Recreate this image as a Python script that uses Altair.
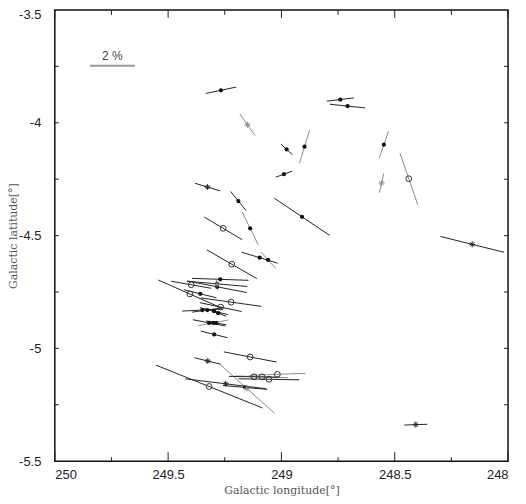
import numpy as np
import pandas as pd
import altair as alt

# ---- star positions and polarization vectors ----
lon = [249.267, 249.150, 249.326, 249.190, 249.257, 249.138, 248.740, 248.708, 248.977, 248.898,
       248.989, 248.548, 248.558, 248.438, 248.909, 248.158, 249.219, 249.096, 249.059, 249.270,
       249.284, 249.398, 249.284, 249.284, 249.404, 249.358, 249.222, 249.268, 249.349, 249.327,
       249.297, 249.279, 249.319, 249.301, 249.288, 249.297, 249.138, 249.325, 249.319, 249.152,
       249.246, 249.160, 249.018, 249.055, 249.086, 249.121, 248.407]
lat = [-3.856, -4.009, -4.285, -4.347, -4.468, -4.468, -3.897, -3.926, -4.118, -4.106,
       -4.228, -4.097, -4.267, -4.248, -4.417, -4.539, -4.627, -4.598, -4.608, -4.694,
       -4.714, -4.718, -4.727, -4.716, -4.759, -4.758, -4.795, -4.817, -4.830, -4.830,
       -4.835, -4.844, -4.887, -4.887, -4.887, -4.938, -5.038, -5.056, -5.169, -5.178,
       -5.157, -5.173, -5.115, -5.137, -5.126, -5.126, -5.338]
pol = [1.37, 1.17, 1.16, 1.09, 1.95, 1.64, 1.20, 1.57, 0.70, 1.52,
       0.76, 1.26, 0.88, 2.41, 2.95, 2.90, 2.55, 1.67, 1.00, 2.49,
       2.68, 1.80, 2.67, 0.54, 3.05, 1.47, 2.69, 1.89, 1.78, 1.35,
       1.28, 0.76, 1.45, 1.36, 0.91, 1.22, 2.37, 1.22, 5.07, 3.27,
       3.58, 1.96, 2.49, 2.67, 2.31, 2.22, 1.02]
theta = [102, 35, 73, 39, 59, 26, 97, 84, 47, 163,
         110, 161, 167, 19, 56, 76, 60, 73, 42, 88,
         85, 80, 79, 10, 66, 76, 82, 78, 93, 98,
         76, 69, 79, 101, 79, 76, 79, 76, 68, 48,
         83, 85, 92, 89, 88, 89, 92]
marker = ["dot", "star", "star", "dot", "open", "dot", "dot", "dot", "dot", "dot",
          "dot", "dot", "star", "open", "dot", "star", "open", "dot", "dot", "dot",
          "dot", "open", "dot", "star", "open", "dot", "open", "open", "dot", "dot",
          "dot", "dot", "dot", "dot", "dot", "dot", "open", "star", "open", "star",
          "star", "dot", "open", "open", "open", "open", "star"]
tone = ["k", "g", "k", "k", "k", "g", "k", "k", "k", "g",
        "k", "g", "g", "g", "k", "k", "k", "k", "g", "k",
        "k", "k", "k", "g", "k", "k", "k", "k", "k", "k",
        "k", "k", "k", "g", "k", "k", "k", "k", "k", "g",
        "k", "k", "g", "k", "g", "k", "k"]

DEG_PER_PCT = 0.1          # vector length scale: 2 % = 0.2 deg
BAR_PCT = 2
BAR_L = 249.846
BAR_B = -3.747
BAR_LABEL = "2 %"
BAR_LABEL_B = -3.703

X_MAJOR = [250, 249.5, 249, 248.5, 248]
X_MINOR = [249.75, 249.25, 248.75, 248.25]
Y_LABELS = [-3.5, -4, -4.5, -5, -5.5]
Y_TICKS = [-3.75, -4, -4.25, -4.5, -4.75, -5, -5.25]

W, H = 455, 453

df = pd.DataFrame({"l": lon, "b": lat, "p": pol, "theta": theta,
                   "marker": marker, "tone": tone})
half = 0.5 * DEG_PER_PCT * df["p"]
rad = np.radians(df["theta"])
df["l1"] = df["l"] + half * np.sin(rad)
df["l2"] = df["l"] - half * np.sin(rad)
df["b1"] = df["b"] + half * np.cos(rad)
df["b2"] = df["b"] - half * np.cos(rad)

xs = alt.Scale(domain=[248, 250], reverse=True, nice=False, zero=False)
ys = alt.Scale(domain=[-5.5, -3.5], nice=False, zero=False)

xaxis = alt.Axis(values=X_MAJOR, labelExpr="'' + datum.value", title="Galactic longitude[°]",
                 ticks=False, tickSize=0, domain=False, grid=False, labelPadding=7,
                 titleY=32, titleBaseline="alphabetic")
yaxis = alt.Axis(values=Y_LABELS, labelExpr="'' + datum.value", title="Galactic latitude[°]",
                 ticks=False, tickSize=0, domain=False, grid=False, labelPadding=14,
                 labelOffset={"condition": {"test": "datum.value == -3.5", "value": 5}, "value": 0},
                 titleX=-41.5, titleY=H / 2, titleAngle=270, titleBaseline="middle",
                 titleAlign="center")

X = lambda f: alt.X(f, type="quantitative", scale=xs, axis=xaxis)
Y = lambda f: alt.Y(f, type="quantitative", scale=ys, axis=yaxis)
tone_color = alt.Color("tone:N", scale=alt.Scale(domain=["k", "g"], range=["#262626", "#8c8c8c"]),
                       legend=None)

segs = alt.Chart(df).mark_rule(strokeWidth=1).encode(
    x=X("l1"), x2="l2", y=Y("b1"), y2="b2", color=tone_color)

dots = alt.Chart(df[df.marker == "dot"]).mark_point(
    shape="circle", filled=True, size=18, opacity=1, color="#111").encode(x=X("l"), y=Y("b"))
opens = alt.Chart(df[df.marker == "open"]).mark_point(
    shape="circle", filled=False, size=34, opacity=1, strokeWidth=1, color="#333",
    fill="white", fillOpacity=0).encode(x=X("l"), y=Y("b"))
stars = alt.Chart(df[df.marker == "star"]).mark_point(
    shape="M-1,0L1,0M0,-1L0,1M-0.7,-0.7L0.7,0.7M-0.7,0.7L0.7,-0.7",
    filled=False, size=36, opacity=1, strokeWidth=1).encode(x=X("l"), y=Y("b"), color=tone_color)

bar_df = pd.DataFrame({"l": [BAR_L], "l2": [BAR_L - BAR_PCT * DEG_PER_PCT], "b": [BAR_B]})
bar = alt.Chart(bar_df).mark_rule(strokeWidth=2, color="#9a9a9a").encode(
    x=X("l"), x2="l2", y=Y("b"))
lab_df = pd.DataFrame({"l": [BAR_L - BAR_PCT * DEG_PER_PCT / 2], "b": [BAR_LABEL_B], "t": [BAR_LABEL]})
lab = alt.Chart(lab_df).mark_text(font="Liberation Sans", fontSize=12, color="#444",
                                  baseline="middle").encode(x=X("l"), y=Y("b"), text="t:N")

xmaj = pd.DataFrame({"l": X_MAJOR})
xmin = pd.DataFrame({"l": X_MINOR})
yt = pd.DataFrame({"b": Y_TICKS})
tick_col = "#222"
t1 = alt.Chart(xmaj).mark_rule(color=tick_col, strokeWidth=1).encode(x=X("l"), y=alt.value(H), y2=alt.value(H - 9))
t2 = alt.Chart(xmin).mark_rule(color=tick_col, strokeWidth=1).encode(x=X("l"), y=alt.value(H), y2=alt.value(H - 4))
t3 = alt.Chart(xmaj).mark_rule(color=tick_col, strokeWidth=1).encode(x=X("l"), y=alt.value(0), y2=alt.value(8))
t4 = alt.Chart(xmin).mark_rule(color=tick_col, strokeWidth=1).encode(x=X("l"), y=alt.value(0), y2=alt.value(5))
t5 = alt.Chart(yt).mark_rule(color=tick_col, strokeWidth=1).encode(y=Y("b"), x=alt.value(0), x2=alt.value(4))
t6 = alt.Chart(yt).mark_rule(color=tick_col, strokeWidth=1).encode(y=Y("b"), x=alt.value(W - 4), x2=alt.value(W))

chart = alt.layer(t1, t2, t3, t4, t5, t6, bar, lab, segs, opens, dots, stars).properties(
    width=W, height=H,
    autosize=alt.AutoSizeParams(type="none"),
    padding={"left": 47, "top": 1, "right": 10, "bottom": 40},
    background="white",
).configure_view(
    stroke="#111", strokeWidth=1.5
).configure_axis(
    labelFont="Liberation Sans", labelFontSize=13, labelColor="#222",
    titleFont="DejaVu Serif", titleFontSize=11, titleFontWeight="normal", titleColor="#555",
)

chart.save("out.html", embed_options={"renderer": "svg", "actions": False})
